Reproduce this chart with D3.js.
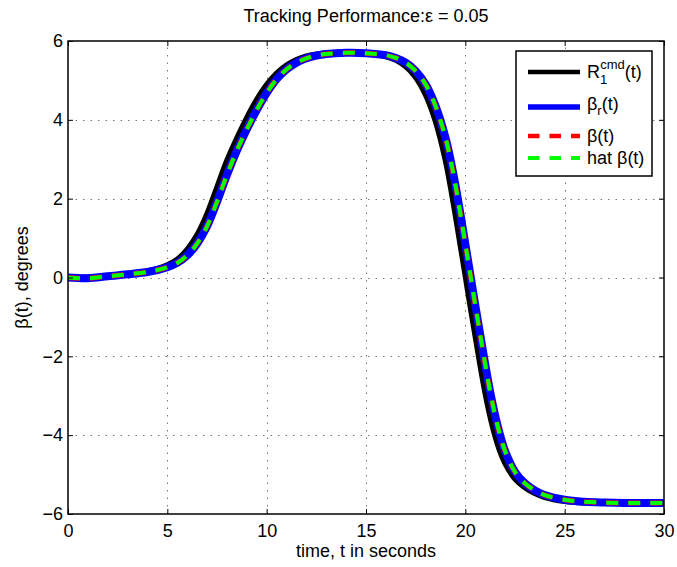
<!DOCTYPE html>
<html>
<head>
<meta charset="utf-8">
<script src="https://cdn.jsdelivr.net/npm/d3@7"></script>
<style>
body{margin:0;background:#fff;}
svg{display:block;font-family:"Liberation Sans",Arial,sans-serif;}
</style>
</head>
<body>
<svg width="677" height="567"></svg>
<script>
// time samples (s)
var times = [0,1,2,3,4,4.5,5,5.5,6,6.5,7,7.5,8,8.5,9,9.5,10,10.5,11,11.5,12,12.5,13,14,15,16,16.5,17,17.5,18,18.5,19,19.25,19.5,19.75,20,20.25,20.5,20.75,21,21.25,21.5,21.75,22,22.5,23,23.5,24,25,26,27,28,29,30];
// R1 cmd(t), black
var cmdVals = [0,0,0.04,0.09,0.16,0.22,0.31,0.45,0.7,1.07,1.6,2.27,2.95,3.52,4.04,4.5,4.88,5.17,5.38,5.52,5.61,5.66,5.69,5.7,5.68,5.61,5.52,5.36,5.09,4.65,3.98,3.0,2.35,1.62,0.85,0.08,-0.7,-1.45,-2.2,-2.9,-3.5,-4.0,-4.4,-4.7,-5.1,-5.32,-5.47,-5.57,-5.67,-5.71,-5.72,-5.72,-5.72,-5.72];
// beta_r(t), blue
var refVals = [0,-0.02,0.03,0.08,0.14,0.19,0.26,0.37,0.56,0.86,1.3,1.92,2.6,3.22,3.76,4.25,4.68,5.03,5.28,5.45,5.56,5.63,5.67,5.7,5.69,5.64,5.57,5.45,5.24,4.9,4.35,3.55,3.0,2.35,1.62,0.85,0.08,-0.7,-1.45,-2.2,-2.9,-3.5,-4.0,-4.4,-4.93,-5.22,-5.4,-5.52,-5.64,-5.69,-5.71,-5.72,-5.72,-5.72];
// beta(t), red dashed
var betaVals = [0,-0.02,0.03,0.08,0.14,0.19,0.26,0.37,0.56,0.86,1.3,1.92,2.6,3.22,3.76,4.25,4.68,5.03,5.28,5.45,5.56,5.63,5.67,5.7,5.69,5.64,5.57,5.45,5.24,4.9,4.35,3.55,3.0,2.35,1.62,0.85,0.08,-0.7,-1.45,-2.2,-2.9,-3.5,-4.0,-4.4,-4.93,-5.22,-5.4,-5.52,-5.64,-5.69,-5.71,-5.72,-5.72,-5.72];
// hat beta(t), green dashed
var hatVals = [0,-0.02,0.03,0.08,0.14,0.19,0.26,0.37,0.56,0.86,1.3,1.92,2.6,3.22,3.76,4.25,4.68,5.03,5.28,5.45,5.56,5.63,5.67,5.7,5.69,5.64,5.57,5.45,5.24,4.9,4.35,3.55,3.0,2.35,1.62,0.85,0.08,-0.7,-1.45,-2.2,-2.9,-3.5,-4.0,-4.4,-4.93,-5.22,-5.4,-5.52,-5.64,-5.69,-5.71,-5.72,-5.72,-5.72];
var xTicks = [0,5,10,15,20,25,30];
var yTicks = [-6,-4,-2,0,2,4,6];

var L=68, R=664, T=41, B=514;
var svg = d3.select('svg');
var x = d3.scaleLinear().domain([0,30]).range([L,R]);
var y = d3.scaleLinear().domain([-6,6]).range([B,T]);

// grid
var grid = svg.append('g').attr('stroke','#777').attr('stroke-width',1).attr('stroke-dasharray','1.5,6');
grid.selectAll('.gx').data(xTicks.slice(1,-1)).enter().append('line')
  .attr('x1',d=>Math.round(x(d))+0.5).attr('x2',d=>Math.round(x(d))+0.5).attr('y1',B).attr('y2',T);
grid.selectAll('.gy').data(yTicks.slice(1,-1)).enter().append('line')
  .attr('y1',d=>Math.round(y(d))+0.5).attr('y2',d=>Math.round(y(d))+0.5).attr('x1',L).attr('x2',R);

// lines
var line = d3.line().x(d=>x(d[0])).y(d=>y(d[1])).curve(d3.curveCatmullRom.alpha(0.5));
function series(vals){ return times.map((t,i)=>[t,vals[i]]); }
var plot = svg.append('g').attr('fill','none').attr('stroke-linejoin','round');
plot.append('path').attr('d',line(series(cmdVals))).attr('stroke','#000').attr('stroke-width',6);
plot.append('path').attr('d',line(series(refVals))).attr('stroke','#0000ff').attr('stroke-width',8);
plot.append('path').attr('d',line(series(betaVals))).attr('stroke','#ff0000').attr('stroke-width',5).attr('stroke-dasharray','12,10');
plot.append('path').attr('d',line(series(hatVals))).attr('stroke','#00ff00').attr('stroke-width',4).attr('stroke-dasharray','12,10');

// axes (ticks inward)
var fs = 18;
var ax = svg.append('g');
ax.append('g').attr('transform','translate(0,'+B+')')
  .call(d3.axisBottom(x).tickValues(xTicks).tickSize(-5).tickPadding(10).tickFormat(d3.format('d')));
ax.append('g').attr('transform','translate(0,'+T+')')
  .call(d3.axisTop(x).tickValues(xTicks).tickSize(-5).tickFormat(''));
ax.append('g').attr('transform','translate('+L+',0)')
  .call(d3.axisLeft(y).tickValues(yTicks).tickSize(-5).tickPadding(5).tickFormat(d3.format('d')));
ax.append('g').attr('transform','translate('+R+',0)')
  .call(d3.axisRight(y).tickValues(yTicks).tickSize(-5).tickFormat(''));
ax.selectAll('.domain').remove();
ax.selectAll('line').attr('stroke','#000');
ax.selectAll('text').attr('fill','#000').attr('font-size',fs).attr('font-family','"Liberation Sans",Arial,sans-serif');
svg.append('rect').attr('x',L).attr('y',T).attr('width',R-L).attr('height',B-T)
  .attr('fill','none').attr('stroke','#000').attr('stroke-width',1.5);

// title and labels
svg.append('text').attr('x',(L+R)/2).attr('y',22).attr('text-anchor','middle').attr('font-size',fs)
  .text('Tracking Performance:\u03b5 = 0.05');
svg.append('text').attr('x',(L+R)/2).attr('y',557).attr('text-anchor','middle').attr('font-size',fs)
  .text('time, t in seconds');
svg.append('text').attr('transform','translate(28,'+((T+B)/2)+') rotate(-90)').attr('text-anchor','middle').attr('font-size',fs)
  .text('\u03b2(t), degrees');

// legend
var lg = svg.append('g');
lg.append('rect').attr('x',516).attr('y',51).attr('width',136).attr('height',125)
  .attr('fill','#fff').attr('stroke','#000').attr('stroke-width',1.5);
var legendRows = [
  {y:72, color:'#000', w:4.5, dash:null},
  {y:107, color:'#0000ff', w:5.5, dash:null},
  {y:136, color:'#ff0000', w:4.5, dash:'11.5,10'},
  {y:158, color:'#00ff00', w:4, dash:'11.5,10'}
];
legendRows.forEach(function(r){
  lg.append('line').attr('x1',528).attr('x2',580).attr('y1',r.y).attr('y2',r.y)
    .attr('stroke',r.color).attr('stroke-width',r.w).attr('stroke-dasharray',r.dash);
});
var t1 = lg.append('text').attr('x',587).attr('y',78).attr('font-size',fs);
t1.append('tspan').text('R');
t1.append('tspan').attr('font-size',13).attr('dy',6).text('1');
t1.append('tspan').attr('font-size',13).attr('dx',-7).attr('dy',-15).text('cmd');
t1.append('tspan').attr('dy',9).text('(t)');
var t2 = lg.append('text').attr('x',587).attr('y',110).attr('font-size',fs);
t2.append('tspan').text('\u03b2');
t2.append('tspan').attr('font-size',13).attr('dy',5).text('r');
t2.append('tspan').attr('dy',-5).text('(t)');
lg.append('text').attr('x',587).attr('y',142).attr('font-size',fs).text('\u03b2(t)');
lg.append('text').attr('x',587).attr('y',164).attr('font-size',fs).text('hat \u03b2(t)');
</script>
</body>
</html>
